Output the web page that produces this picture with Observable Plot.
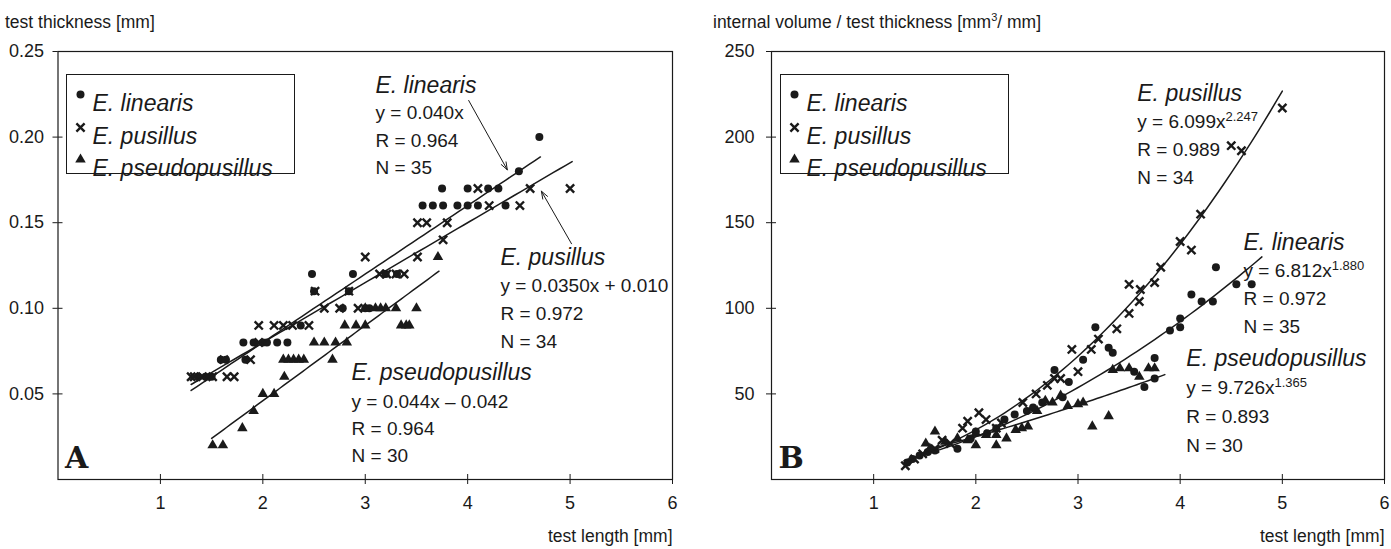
<!DOCTYPE html>
<html><head><meta charset="utf-8">
<script src="https://cdn.jsdelivr.net/npm/d3@7"></script>
<script src="https://cdn.jsdelivr.net/npm/@observablehq/plot@0.6"></script>
<style>
body{margin:0;background:#fff;font-family:"Liberation Sans",Arial,sans-serif;}
#wrap{position:relative;width:1391px;height:549px;overflow:hidden;background:#fff}
.panel{position:absolute;top:0}
.title{position:absolute;font-size:17.5px;line-height:20px;color:#1a1a1a;white-space:nowrap}
.title sup{font-size:11px;line-height:0;vertical-align:7px}
</style></head><body>
<div id="wrap">
  <div class="panel" id="pa" style="left:0"></div>
  <div class="panel" id="pb" style="left:695px"></div>
  <div class="title" style="left:5px;top:12px">test thickness [mm]</div>
  <div class="title" style="left:713px;top:12px">internal volume / test thickness [mm<sup>3</sup>/ mm]</div>
</div>
<script>
// ---------- data ----------
const xTicks = [1, 2, 3, 4, 5, 6];
const yTicksA = [0.05, 0.10, 0.15, 0.20, 0.25];
const yTicksB = [50, 100, 150, 200, 250];
const speciesNames = ["E. linearis", "E. pusillus", "E. pseudopusillus"];

// Panel A: test length [mm] vs test thickness [mm]
const linearisA = [[1.37,0.06],[1.44,0.06],[1.5,0.06],[1.59,0.07],[1.64,0.07],[1.83,0.07],[1.81,0.08],[1.91,0.08],[2.0,0.08],[2.04,0.08],[2.14,0.08],[2.24,0.08],[2.37,0.09],[2.5,0.11],[2.48,0.12],[2.78,0.10],[2.84,0.11],[2.88,0.12],[3.0,0.10],[3.04,0.10],[3.2,0.12],[3.31,0.12],[3.56,0.16],[3.66,0.16],[3.76,0.16],[3.75,0.17],[3.9,0.16],[4.0,0.16],[4.0,0.17],[4.1,0.16],[4.2,0.17],[4.3,0.17],[4.37,0.16],[4.5,0.18],[4.7,0.20]];
const pusillusA = [[1.3,0.06],[1.33,0.06],[1.41,0.06],[1.51,0.06],[1.65,0.06],[1.72,0.06],[1.62,0.07],[1.88,0.07],[1.96,0.08],[1.96,0.09],[2.11,0.09],[2.2,0.09],[2.29,0.09],[2.45,0.09],[2.51,0.11],[2.6,0.10],[2.75,0.10],[2.84,0.11],[2.93,0.10],[3.0,0.13],[3.14,0.12],[3.21,0.12],[3.3,0.12],[3.38,0.12],[3.51,0.13],[3.51,0.15],[3.6,0.15],[3.76,0.14],[3.8,0.15],[4.1,0.17],[4.21,0.16],[4.51,0.16],[4.61,0.17],[5.0,0.17]];
const pseudoA = [[1.51,0.02],[1.61,0.02],[1.8,0.03],[1.91,0.04],[2.0,0.05],[2.11,0.05],[2.21,0.06],[2.2,0.07],[2.25,0.07],[2.3,0.07],[2.35,0.07],[2.4,0.07],[2.5,0.08],[2.6,0.08],[2.68,0.07],[2.71,0.08],[2.82,0.08],[2.8,0.09],[2.91,0.09],[3.0,0.09],[3.0,0.10],[3.1,0.10],[3.15,0.10],[3.2,0.10],[3.3,0.10],[3.35,0.09],[3.4,0.09],[3.43,0.09],[3.5,0.10],[3.71,0.13]];

// Panel B: test length [mm] vs internal volume / test thickness [mm3/mm]
const linearisB = [[1.33,10],[1.38,12],[1.45,14],[1.53,16],[1.6,17],[1.82,18],[1.95,24],[2.0,28],[2.11,27],[2.2,30],[2.28,35],[2.38,38],[2.5,40],[2.56,42],[2.65,45],[2.77,64],[2.85,48],[2.91,57],[3.05,70],[3.17,89],[3.3,77],[3.34,74],[3.55,63],[3.65,54],[3.75,59],[3.75,71],[3.9,87],[4.0,89],[4.0,94],[4.11,108],[4.21,104],[4.32,104],[4.35,124],[4.55,114],[4.7,114]];
const pusillusB = [[1.31,8],[1.4,12],[1.48,15],[1.6,18],[1.67,23],[1.75,21],[1.87,30],[1.92,34],[2.03,39],[2.1,35],[2.2,30],[2.25,33],[2.46,45],[2.59,50],[2.7,55],[2.77,59],[2.83,59],[2.94,76],[3.0,63],[3.13,76],[3.2,82],[3.38,88],[3.5,97],[3.5,114],[3.6,104],[3.61,111],[3.75,115],[3.81,124],[4.0,139],[4.11,134],[4.2,155],[4.5,195],[4.6,192],[5.0,217]];
const pseudoB = [[1.51,21],[1.55,18],[1.6,28],[1.7,22],[1.82,24],[1.92,23],[2.0,20],[2.0,27],[2.1,26],[2.2,20],[2.2,26],[2.3,24],[2.39,29],[2.45,30],[2.51,31],[2.6,40],[2.68,46],[2.75,45],[2.83,49],[2.9,43],[3.0,44],[3.05,45],[3.14,31],[3.3,37],[3.34,64],[3.41,65],[3.5,65],[3.6,60],[3.69,65],[3.75,65]];

// fitted trend lines as printed on the chart (coefficients + drawn x-range)
const fitsA = [{a:0.040,b:0,from:1.3,to:4.71},{a:0.0350,b:0.010,from:1.3,to:5.02},{a:0.044,b:-0.042,from:1.5,to:3.72}];
const fitsB = [{a:6.099,p:2.247,from:1.3,to:5.0},{a:6.812,p:1.880,from:1.3,to:4.8},{a:9.726,p:1.365,from:1.5,to:3.85}];

// annotation text (positions in data units)
const annA = [
  {x:3.10,y:0.2301,t:"E. linearis",it:true},{x:3.10,y:0.2141,t:"y = 0.040x"},{x:3.10,y:0.1976,t:"R = 0.964"},{x:3.10,y:0.1818,t:"N = 35"},
  {x:4.32,y:0.1297,t:"E. pusillus",it:true},{x:4.32,y:0.1133,t:"y = 0.0350x + 0.010"},{x:4.32,y:0.0970,t:"R = 0.972"},{x:4.32,y:0.0806,t:"N = 34"},
  {x:2.866,y:0.0625,t:"E. pseudopusillus",it:true},{x:2.866,y:0.0456,t:"y = 0.044x – 0.042"},{x:2.866,y:0.0298,t:"R = 0.964"},{x:2.866,y:0.0140,t:"N = 30"}
];
const arrowsA = [{x1:4.01,y1:0.2214,x2:4.387,y2:0.1809},{x1:5.014,y1:0.1377,x2:4.72,y2:0.1684}];
const annB = [
  {x:3.58,y:225.5,t:"E. pusillus",it:true},{x:3.58,y:209.1,t:"y = 6.099x^2.247"},{x:3.58,y:192.8,t:"R = 0.989"},{x:3.58,y:176.4,t:"N = 34"},
  {x:4.62,y:138.4,t:"E. linearis",it:true},{x:4.62,y:122.1,t:"y = 6.812x^1.880"},{x:4.62,y:105.7,t:"R = 0.972"},{x:4.62,y:89.4,t:"N = 35"},
  {x:4.06,y:70.7,t:"E. pseudopusillus",it:true},{x:4.06,y:53.7,t:"y = 9.726x^1.365"},{x:4.06,y:36.8,t:"R = 0.893"},{x:4.06,y:19.9,t:"N = 30"}
];

// ---------- drawing ----------
const FONT = "'Liberation Sans', Arial, Helvetica, sans-serif";
const INK = "#1a1a1a";
const H = 549, MT = 51, MB = 70;
const symbols = [
  {symbol:"circle", r:4, fill:INK, stroke:"none", strokeWidth:0},
  {symbol:"times", r:3.8, fill:"none", stroke:INK, strokeWidth:2.4},
  {symbol:"triangle", r:3.9, fill:INK, stroke:"none", strokeWidth:0}
];

function linePts(f, power) {
  const n = 60;
  return d3.range(n + 1).map(i => {
    const x = f.from + (f.to - f.from) * i / n;
    return {x, y: power ? f.a * Math.pow(x, f.p) : f.a * x + f.b};
  });
}

function makePanel(cfg) {
  const innerW = cfg.width - cfg.marginLeft - cfg.marginRight;
  const innerH = H - MT - MB;
  const marks = [];
  cfg.series.forEach((pts, i) => {
    const s = symbols[i];
    marks.push(Plot.dot(pts, {x: d => d[0], y: d => d[1], symbol: s.symbol, r: s.r, fill: s.fill, stroke: s.stroke, strokeWidth: s.strokeWidth}));
  });
  cfg.fits.forEach(f => marks.push(Plot.line(linePts(f, cfg.power), {x: "x", y: "y", stroke: INK, strokeWidth: 1.5})));
  marks.push(Plot.frame({stroke: INK, strokeWidth: 1.2}));
  marks.push(Plot.axisX(xTicks, {tickSize: 5, tickPadding: 12, fontSize: 18, fill: INK, stroke: INK, label: null}));
  marks.push(Plot.tickX(xTicks, {x: d => d, insetTop: innerH - 5, stroke: INK}));
  marks.push(Plot.axisY(cfg.yTicks, {tickSize: 5, tickPadding: cfg.yPad, tickFormat: cfg.yFmt, fontSize: 18, fill: INK, stroke: INK, label: null}));
  marks.push(Plot.tickY(cfg.yTicks, {y: d => d, insetRight: innerW - 5, stroke: INK}));
  marks.push(Plot.text(["test length [mm]"], {frameAnchor: "bottom-right", textAnchor: "end", dy: 62, fontSize: 17.5, fill: INK}));
  // annotations
  marks.push(Plot.text(cfg.ann.filter(d => !d.it), {x: "x", y: "y", text: "t", textAnchor: "start", fontSize: 19, fill: INK}));
  marks.push(Plot.text(cfg.ann.filter(d => d.it), {x: "x", y: "y", text: "t", textAnchor: "start", fontSize: 23, fontStyle: "italic", fill: INK}));
  if (cfg.arrows) marks.push(Plot.arrow(cfg.arrows, {x1: "x1", y1: "y1", x2: "x2", y2: "y2", stroke: INK, strokeWidth: 1, headLength: 12, headAngle: 40}));
  // legend box
  const L = cfg.legend;
  marks.push(Plot.frame({stroke: INK, strokeWidth: 1, fill: "white", insetLeft: L.left, insetTop: L.top, insetRight: innerW - L.left - L.w, insetBottom: innerH - L.top - L.h}));
  speciesNames.forEach((name, i) => {
    const s = symbols[i];
    marks.push(Plot.dot([name], {frameAnchor: "top-left", dx: L.left + 14, dy: L.top + L.rows[i], symbol: s.symbol, r: s.r, fill: s.fill, stroke: s.stroke, strokeWidth: s.strokeWidth}));
    marks.push(Plot.text([name], {frameAnchor: "top-left", dx: L.left + 26, dy: L.top + L.rows[i], textAnchor: "start", fontSize: 23, fontStyle: "italic", fill: INK}));
  });
  marks.push(Plot.text([cfg.letter], {frameAnchor: "bottom-left", dx: 7, dy: -12, textAnchor: "start", fontSize: 30, fontWeight: "bold", fontFamily: "'DejaVu Serif', serif", fill: INK}));

  const svg = Plot.plot({
    width: cfg.width, height: H,
    marginLeft: cfg.marginLeft, marginRight: cfg.marginRight, marginTop: MT, marginBottom: MB,
    x: {domain: [0, 6]},
    y: {domain: cfg.yDomain},
    style: {fontFamily: FONT, fontSize: "17px", color: INK, background: "white", overflow: "visible"},
    marks
  });
  d3.select(svg).selectAll("text").each(function () {
    const t = this.textContent;
    if (t.includes("^")) {
      const [a, b] = t.split("^");
      const sel = d3.select(this);
      sel.text(null);
      sel.append("tspan").text(a);
      sel.append("tspan").attr("dy", "-0.5em").attr("font-size", "13px").text(b);
    }
  });
  return svg;
}

document.getElementById("pa").appendChild(makePanel({
  width: 695, marginLeft: 57.5, marginRight: 23,
  yDomain: [0, 0.25], yTicks: yTicksA, yFmt: d3.format(".2f"), yPad: 9,
  series: [linearisA, pusillusA, pseudoA], fits: fitsA, power: false,
  ann: annA, arrows: arrowsA,
  legend: {left: 8.5, top: 23, w: 228, h: 99, rows: [20, 53, 85]},
  letter: "A"
}));
document.getElementById("pb").appendChild(makePanel({
  width: 696, marginLeft: 76, marginRight: 7,
  yDomain: [0, 250], yTicks: yTicksB, yFmt: d3.format("d"), yPad: 12,
  series: [linearisB, pusillusB, pseudoB], fits: fitsB, power: true,
  ann: annB, arrows: null,
  legend: {left: 9, top: 23, w: 228, h: 99, rows: [20, 53, 85]},
  letter: "B"
}));
</script>
</body></html>
